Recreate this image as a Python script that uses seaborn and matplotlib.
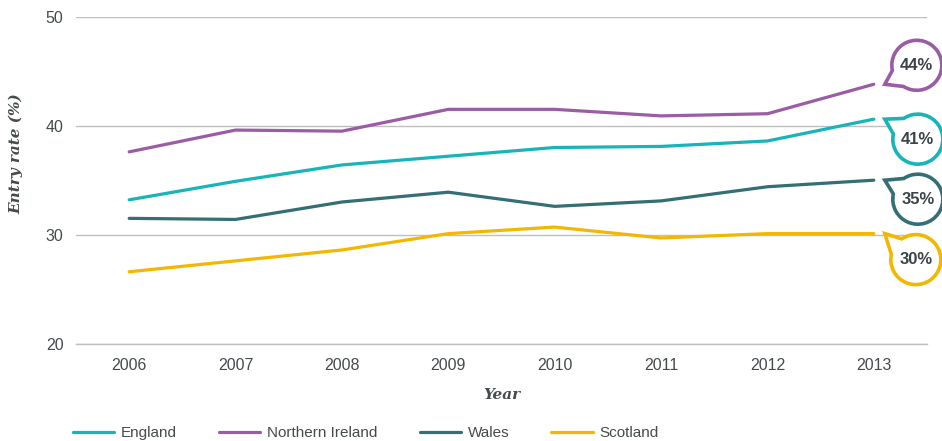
import numpy as np
import pandas as pd
import matplotlib
matplotlib.use("Agg")
import matplotlib.pyplot as plt
import seaborn as sns
from matplotlib.path import Path
from matplotlib.patches import PathPatch

# Entry rates (%) by nation and year
years = [2006, 2007, 2008, 2009, 2010, 2011, 2012, 2013]
england = [33.2, 34.9, 36.4, 37.2, 38.0, 38.1, 38.6, 40.6]
northern_ireland = [37.6, 39.6, 39.5, 41.5, 41.5, 40.9, 41.1, 43.8]
wales = [31.5, 31.4, 33.0, 33.9, 32.6, 33.1, 34.4, 35.0]
scotland = [26.6, 27.6, 28.6, 30.1, 30.7, 29.7, 30.1, 30.1]

regions = ["England", "Northern Ireland", "Wales", "Scotland"]
series = [england, northern_ireland, wales, scotland]
colors = {"England": "#17b4b8", "Northern Ireland": "#9b5ca6",
          "Wales": "#336f75", "Scotland": "#f4b700"}

df = pd.DataFrame({
    "Year": np.tile(years, len(regions)),
    "Region": np.repeat(regions, len(years)),
    "Rate": np.concatenate(series),
})

sns.set_theme(style="white")
plt.rcParams["font.family"] = ["Liberation Sans", "DejaVu Sans"]

TEXT = "#454a4c"
GRID = "#bfbfbf"

fig = plt.figure(figsize=(9.42, 4.41), dpi=100)
ax = fig.add_axes([76 / 942, 1 - 343.7 / 441, (927 - 76) / 942, (343.7 - 16.7) / 441])

sns.lineplot(data=df, x="Year", y="Rate", hue="Region", hue_order=regions,
             palette=colors, linewidth=2.3, sort=False, ax=ax, legend=True)

ax.set_xlim(years[0] - 0.5, years[-1] + 0.5)
ax.set_ylim(20, 50)
ax.set_yticks([20, 30, 40, 50])
ax.set_xticks(years)
ax.set_xticklabels([str(y) for y in years])
ax.set_xticks([y - 0.5 for y in years] + [years[-1] + 0.5], minor=True)

ax.grid(axis="y", color=GRID, linewidth=1.0)
ax.grid(axis="x", visible=False)
ax.set_axisbelow(True)
for side in ["left", "right", "top"]:
    ax.spines[side].set_visible(False)
ax.spines["bottom"].set_color(GRID)
ax.spines["bottom"].set_linewidth(1.0)

ax.tick_params(axis="x", which="major", length=0, pad=10, labelsize=11.5, labelcolor=TEXT)
ax.tick_params(axis="x", which="minor", length=5, width=1.0, color=GRID, direction="out")
ax.tick_params(axis="y", length=0, pad=9, labelsize=11.5, labelcolor=TEXT)

label_font = dict(family="DejaVu Serif", weight="bold", style="italic", size=11, color=TEXT)
ax.set_xlabel("Year", **label_font)
ax.set_ylabel("Entry rate (%)", **label_font)
ax.yaxis.set_label_coords(-0.062, 0.58)
ax.xaxis.set_label_coords(0.5, -0.135)

# Legend along the bottom of the figure
handles, labels = ax.get_legend_handles_labels()
ax.get_legend().remove()
leg = fig.legend(handles, labels, loc="center left", ncol=4, frameon=False,
                 bbox_to_anchor=(73 / 942, 1 - 433 / 441), bbox_transform=fig.transFigure,
                 borderpad=0, borderaxespad=0, handlelength=2.7, handletextpad=0.45,
                 columnspacing=2.75, fontsize=11)
for t in leg.get_texts():
    t.set_color(TEXT)
for h in leg.legend_handles:
    h.set_linewidth(2.3)

# Speech-bubble callouts with the final value of each series
fig.canvas.draw()
bubble_offsets = {"England": (33, -20), "Northern Ireland": (32, 19),
                  "Wales": (33, -19), "Scotland": (31, -26)}
R = 25


def bubble_path(cx, cy, r, a1, a2, tip):
    arc = Path.arc(a2, a1 + 360)
    verts = arc.vertices * r + np.array([cx, cy])
    codes = list(arc.codes)
    verts = np.vstack([verts, tip, verts[0]])
    codes += [Path.LINETO, Path.CLOSEPOLY]
    return Path(verts, codes)


for name, vals in zip(regions, series):
    end = ax.transData.transform((years[-1], vals[-1]))
    tip = end + np.array([11, 0])
    dx, dy = bubble_offsets[name]
    cx, cy = tip[0] + dx, tip[1] + dy
    if dy > 0:
        a1, a2 = 192, 238
    else:
        a1, a2 = 124, 168
    patch = PathPatch(bubble_path(cx, cy, R, a1, a2, tip), facecolor="white",
                      edgecolor=colors[name], linewidth=2.6, transform=None,
                      clip_on=False, zorder=5, joinstyle="miter")
    fig.add_artist(patch)
    fig.text(cx / fig.bbox.width, cy / fig.bbox.height,
             f"{int(np.floor(vals[-1] + 0.5))}%", ha="center", va="center",
             fontsize=12, fontweight="bold", color="#3a4446", zorder=6)

fig.savefig("out.png", dpi=100)
